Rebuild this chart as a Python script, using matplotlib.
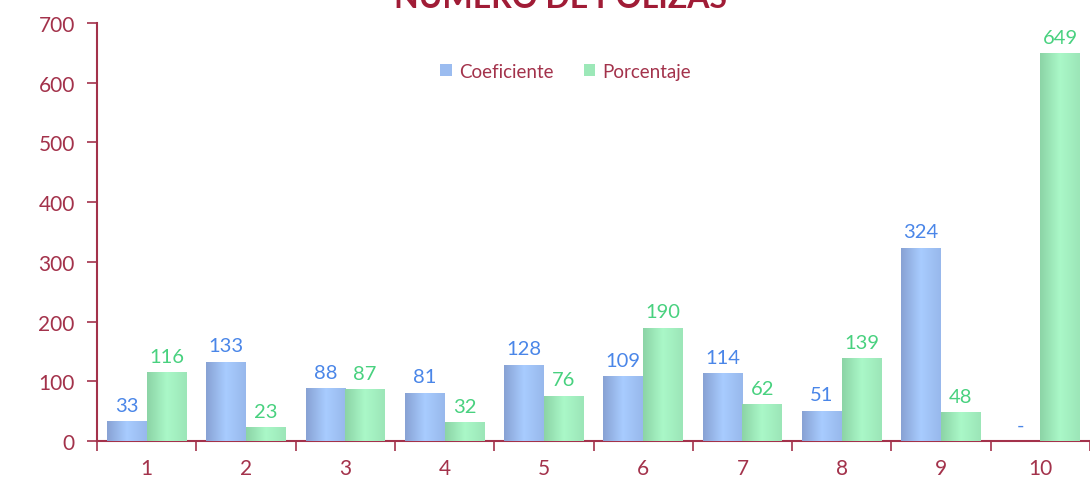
import matplotlib.pyplot as plt
import numpy as np
from matplotlib.colors import LinearSegmentedColormap

# tramos y valores por serie
categorias = [1, 2, 3, 4, 5, 6, 7, 8, 9, 10]
coeficiente = [33, 133, 88, 81, 128, 109, 114, 51, 324, 0]
porcentaje = [116, 23, 87, 32, 76, 190, 62, 139, 48, 649]
etiq_coef = ['33', '133', '88', '81', '128', '109', '114', '51', '324', '-']
etiq_porc = ['116', '23', '87', '32', '76', '190', '62', '139', '48', '649']

rojo = '#a3324b'
azul_txt = '#4a86e8'
verde_txt = '#48d17f'

plt.rcParams['font.family'] = ['Lato', 'DejaVu Sans']

fig = plt.figure(figsize=(10.9, 4.81), dpi=100)
ax = fig.add_axes([97 / 1090, 1 - 442 / 481, 1 - 97 / 1090, (442 - 24) / 481])

x = np.array(categorias)
w = 0.4
b1 = ax.bar(x - w / 2, coeficiente, w, color='#9bbcf0', label='Coeficiente', zorder=2)
b2 = ax.bar(x + w / 2, porcentaje, w, color='#9ce8b8', label='Porcentaje', zorder=2)

# degradado horizontal en cada barra
cm_azul = LinearSegmentedColormap.from_list('az', ['#88a2d4', '#a8ccff', '#98b8ec'])
cm_verde = LinearSegmentedColormap.from_list('vd', ['#8cd4a6', '#aaf8c8', '#9ce6b8'])
grad = np.linspace(0, 1, 64).reshape(1, -1)
for bars, cm in ((b1, cm_azul), (b2, cm_verde)):
    for p in bars:
        if p.get_height() <= 0:
            continue
        x0, y0 = p.get_x(), p.get_y()
        im = ax.imshow(grad, cmap=cm, aspect='auto', zorder=3,
                       extent=(x0, x0 + p.get_width(), y0, y0 + p.get_height()))
        im.set_clip_path(p)
        p.set_facecolor('none')

for xi, v, t in zip(x, coeficiente, etiq_coef):
    ax.text(xi - w / 2, v + 12, t, ha='center', va='bottom', color=azul_txt, fontsize=14.5)
for xi, v, t in zip(x, porcentaje, etiq_porc):
    ax.text(xi + w / 2, v + 12, t, ha='center', va='bottom', color=verde_txt, fontsize=14.5)

ax.set_xlim(0.5, 0.5 + (1090 - 97) / 99.7)
ax.set_ylim(0, 700)
ax.set_yticks(range(0, 701, 100))
ax.set_xticks(x)
ax.set_xticks(np.arange(0.5, 11, 1), minor=True)
ax.tick_params(axis='x', which='major', length=0, pad=12, labelsize=15, labelcolor=rojo)
ax.tick_params(axis='x', which='minor', length=7, width=1.2, color=rojo, direction='out')
ax.tick_params(axis='y', length=7, width=1.2, color=rojo, labelsize=15, labelcolor=rojo, pad=9)

for s in ('top', 'right'):
    ax.spines[s].set_visible(False)
for s in ('left', 'bottom'):
    ax.spines[s].set_color(rojo)
    ax.spines[s].set_linewidth(1.5)

leg = ax.legend(loc='center', bbox_to_anchor=(0.472, 0.885), ncol=2, frameon=False,
                fontsize=13.5, handlelength=0.6, handleheight=0.6, handletextpad=0.4,
                columnspacing=1.6)
for t in leg.get_texts():
    t.set_color(rojo)
leg.legend_handles[0].set_facecolor('#9bbcf0')
leg.legend_handles[1].set_facecolor('#9ce8b8')

fig.text(560 / 1090, 1 - 8 / 481, 'NÚMERO DE PÓLIZAS', ha='center', va='baseline',
         color='#a01c36', fontsize=23, fontweight='bold')

fig.savefig('out.png', dpi=100)
